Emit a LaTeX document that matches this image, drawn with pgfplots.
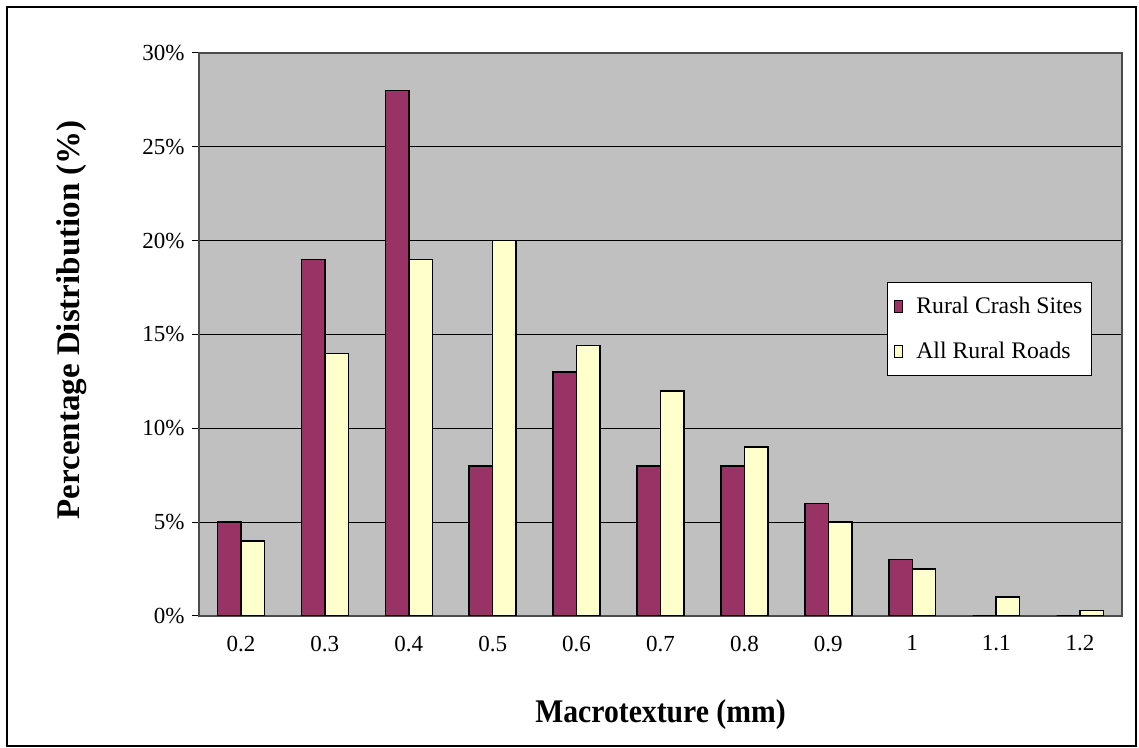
\documentclass[border=0pt]{standalone}
\usepackage{fontspec}
\setmainfont{Liberation Serif}
\usepackage{graphicx}
\usepackage{pgfplots}
\pgfplotsset{compat=1.18}

\definecolor{plotgrey}{HTML}{C0C0C0}
\definecolor{crash}{HTML}{993366}
\definecolor{roads}{HTML}{FFFFCC}

% values in percent, one category per row (0 = 0.2 mm ... 10 = 1.2 mm)
\pgfplotstableread{
idx crash roads
0   5     4
1   19    14
2   28    19
3   8     20
4   13    14.4
5   8     12
6   8     9
7   6     5
8   3     2.5
9   0     1
10  0     0.3
}\macrodata

\newcommand{\tickfont}{\fontsize{17.25}{20}\selectfont}
\newcommand{\titlefont}{\fontsize{24.75}{28}\selectfont\bfseries}

\begin{document}
\begin{tikzpicture}
\useasboundingbox (0pt,0pt) rectangle (854.25pt,561pt);
\draw[line width=1.1pt] (5.25pt,1.5pt) rectangle (852pt,555.75pt);
\begin{axis}[
  at={(149.25pt,99pt)}, anchor=south west,
  scale only axis,
  width=692.25pt, height=422.25pt,
  ybar=0pt, bar width=17.6pt,
  xmin=-0.5, xmax=10.5,
  ymin=0, ymax=30,
  xtick={0,...,10},
  xticklabels={0.2,0.3,0.4,0.5,0.6,0.7,0.8,0.9,1,1.1,1.2},
  minor xtick={-0.5,0.5,...,10.5},
  ytick={0,5,...,30},
  yticklabels={0\%,5\%,10\%,15\%,20\%,25\%,30\%},
  tick pos=left, tick align=outside,
  major tick length=5.25pt, minor tick length=5.25pt,
  xtick style={draw=none},
  minor tick style={black, line width=0.75pt},
  ytick style={black, line width=0.75pt},
  ymajorgrids,
  major grid style={black, line width=0.75pt},
  axis line style={black!70, line width=0.9pt},
  axis background/.style={fill=plotgrey},
  tick label style={font=\tickfont},
  xticklabel style={yshift=-6pt},
  yticklabel style={xshift=-2pt},
  xlabel={\scalebox{0.9}[1]{Macrotexture (mm)}},
  ylabel={Percentage Distribution (\%)},
  label style={font=\titlefont},
  xlabel style={at={(axis description cs:0.5,-0.190)}, anchor=base},
  ylabel style={at={(axis description cs:-0.130,0.526)}, anchor=base},
  legend image code/.code={\draw[#1,line width=0.9pt] (0pt,-4.5pt) rectangle (6pt,4.5pt);},
  legend style={
    at={(0.745,0.593)}, anchor=north west,
    draw=black, line width=0.75pt, fill=white,
    font=\fontsize{17.8}{20}\selectfont,
    inner xsep=5pt, inner ysep=9pt,
    row sep=16pt,
    /tikz/every odd column/.append style={column sep=8pt},
  },
  legend cell align=left,
]
\addplot[fill=crash, draw=black, line width=1.1pt] table[x=idx, y=crash] {\macrodata};
\addlegendentry{Rural Crash Sites}
\addplot[fill=roads, draw=black, line width=1.1pt] table[x=idx, y=roads] {\macrodata};
\addlegendentry{All Rural Roads}
\end{axis}
\end{tikzpicture}
\end{document}
